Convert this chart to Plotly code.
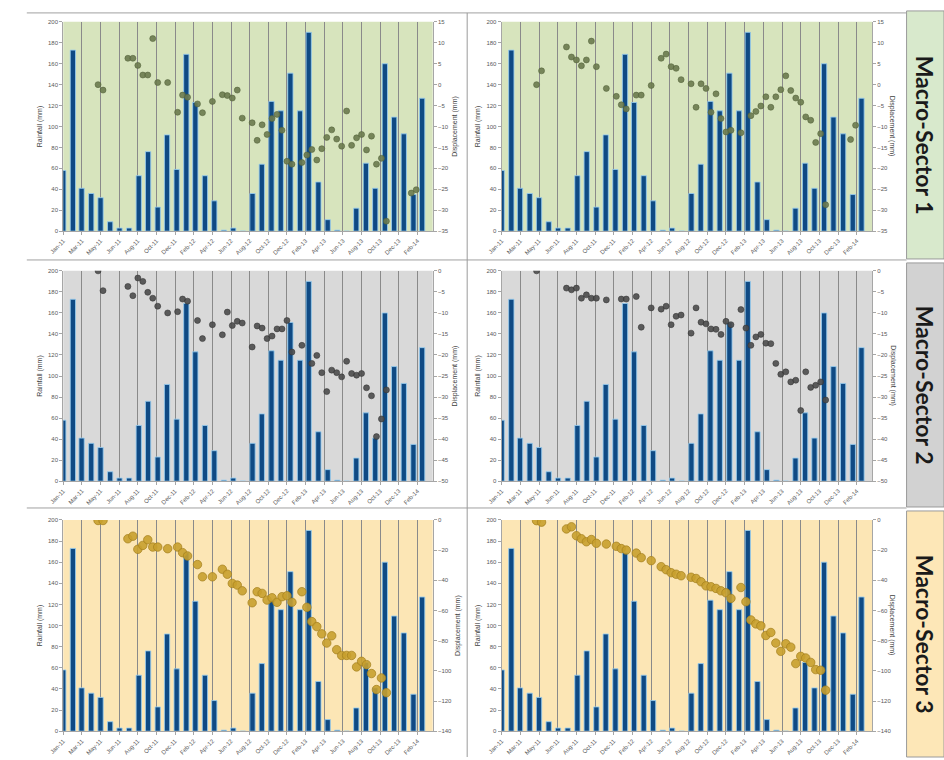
import pandas as pd
import plotly.graph_objects as go

# Monthly rainfall (mm), Jan-2011 .. Mar-2014
month_starts = pd.date_range("2011-01-01", "2014-03-01", freq="MS")
rainfall_mm = [58, 173, 41, 36, 32, 9, 3, 3, 53, 76, 23, 92, 59, 169, 123, 53, 29, 1, 3, 0,
               36, 64, 124, 115, 151, 115, 190, 47, 11, 1, 0, 22, 65, 41, 160, 109, 93, 35, 127]

# SAR acquisition dates shared by all displacement series
acq_dates = [
    "2011-04-23", "2011-05-09", "2011-07-28", "2011-08-13", "2011-08-29", "2011-09-14",
    "2011-09-30", "2011-10-16", "2011-11-01", "2011-12-03", "2012-01-04", "2012-01-20",
    "2012-02-05", "2012-03-08", "2012-03-24", "2012-04-25", "2012-05-27", "2012-06-12",
    "2012-06-28", "2012-07-14", "2012-07-30", "2012-08-31", "2012-09-16", "2012-10-02",
    "2012-10-18", "2012-11-03", "2012-11-19", "2012-12-05", "2012-12-21", "2013-01-06",
    "2013-02-07", "2013-02-23", "2013-03-11", "2013-03-27", "2013-04-12", "2013-04-28",
    "2013-05-14", "2013-05-30", "2013-06-15", "2013-07-01", "2013-07-17", "2013-08-02",
    "2013-08-18", "2013-09-03", "2013-09-19", "2013-10-05", "2013-10-21", "2013-11-06",
    "2014-01-25", "2014-02-10",
]

# Displacement (mm); None = no measurement on that date
sector1_left = [0.0, -1.3, 6.3, 6.3, 4.6, 2.3, 2.3, 11.0, 0.5, 0.5, -6.6, -2.5, -3.0, -4.6, -6.7,
                -4.0, -2.4, -2.6, -3.2, -1.3, -8.0, -9.1, -13.3, -9.6, -11.9, -8.1, -7.1, -10.9,
                -18.3, -19.0, -18.6, -16.8, -15.5, -18.0, -15.3, -12.6, -10.8, -13.0, -14.7, -6.3,
                -14.5, -12.7, -11.9, -15.6, -12.3, -19.0, -17.6, -32.6, -25.9, -25.1]
sector1_right = [0.0, 3.3, 9.0, 6.6, 5.9, 4.5, 5.9, 10.4, 4.3, -0.9, -2.8, -4.8, -5.8, -2.5, -2.5,
                 -0.2, 6.3, 7.3, 4.3, 3.9, 1.2, 0.2, -5.4, 0.2, -0.9, -6.6, -2.2, -8.1, -11.3,
                 -10.9, -11.5, None, -7.4, -6.4, -5.1, -2.9, -5.4, -2.9, -1.2, 2.1, -1.4, -3.2,
                 -4.2, -7.7, -8.5, -13.8, -11.7, -28.7, -13.1, -9.7]
sector2_left = [0.0, -4.7, -3.7, -5.9, -1.7, -2.5, -5.1, -6.5, -8.4, -10.0, -9.7, -6.7, -7.2, -11.8,
                -16.1, -12.8, -15.2, -9.8, -13.0, -12.0, -12.4, -18.1, -13.1, -13.6, -16.1, -15.5,
                -13.8, -13.8, -11.8, -19.3, -17.7, None, -22.0, -20.1, -24.2, -28.7, -23.6, -24.2,
                -25.2, -21.5, -24.4, -24.8, -24.4, -27.8, -29.7, -39.4, -35.2, -28.3, None, None]
sector2_right = [0.0, None, -4.1, -4.5, -4.1, -6.5, -5.7, -6.5, -6.5, -6.9, None, -6.7, -6.7, -6.1,
                 -13.4, -8.8, -9.1, -8.4, -12.8, -10.8, -10.5, -14.8, -8.8, -12.2, -12.6, -13.8,
                 -13.9, -15.1, -12.0, -12.8, -9.2, -13.6, -17.7, -15.7, -15.1, -17.2, -17.3, -22.0,
                 -24.6, -24.0, -26.4, -26.0, -33.2, -24.0, -27.7, -27.2, -26.4, -30.7, None, None]
sector3_left = [-0.4, -0.4, -12.5, -10.8, -19.5, -16.9, -13.2, -18.0, -18.0, -19.1, -18.0, -21.7,
                -23.9, -29.6, -37.7, -37.7, -32.7, -36.0, -42.1, -43.2, -47.0, -54.9, -47.6, -48.7,
                -53.1, -51.6, -54.6, -50.9, -50.3, -54.6, -47.6, -57.9, -67.4, -70.7, -75.5, -81.6,
                -76.8, -86.0, -89.8, -89.8, -89.8, -97.4, -93.7, -95.9, -101.8, -112.4, -104.7,
                -114.5, None, None]
sector3_right = [-0.5, -1.5, -6.0, -4.6, -10.5, -12.5, -14.5, -13.0, -15.5, -16.0, -17.5, -19.0,
                 -20.0, -22.0, -25.0, -27.0, -31.0, -33.0, -35.0, -36.0, -37.0, -38.0, -38.8, -41.0,
                 -43.7, -44.3, -45.4, -47.0, -48.3, -52.0, -44.8, -54.2, -66.3, -68.9, -70.2, -76.6,
                 -74.6, -81.6, -87.1, -82.1, -84.3, -95.2, -90.4, -91.5, -94.4, -99.2, -99.6,
                 -112.8, None, None]

sector_names = ["Macro-Sector 1", "Macro-Sector 2", "Macro-Sector 3"]
displacement = [[sector1_left, sector1_right], [sector2_left, sector2_right],
                [sector3_left, sector3_right]]
disp_ranges = [(-35, 15, 5), (-50, 0, 5), (-140, 0, 20)]

W, H = 944, 760
plot_bg = ["#d7e4bd", "#d9d9d9", "#fce6b5"]
label_bg = ["#d8e9cc", "#d2d2d2", "#fde7b7"]
marker_style = [
    dict(color="rgba(108,122,78,0.9)", size=6, line=dict(color="rgba(80,95,55,0.9)", width=0.6)),
    dict(color="rgba(75,75,75,0.9)", size=6, line=dict(color="rgba(50,50,50,0.9)", width=0.6)),
    dict(color="rgba(200,160,45,0.9)", size=8.5, line=dict(color="rgba(165,128,30,0.9)", width=0.8)),
]
col_x = [(50, 425), (495, 871)]
row_y = [(19, 230), (270, 482), (521, 734)]

tick_font = dict(family="Liberation Sans", size=6, color="#595959")
title_font = dict(family="Liberation Sans", size=7, color="#404040")

x_start = pd.Timestamp("2011-01-01")
x_end = pd.Timestamp("2014-04-04")
sixty_days_ms = 60 * 86400000

fig = go.Figure()
layout = dict(
    width=W, height=H, margin=dict(l=0, r=0, t=0, b=0),
    paper_bgcolor="white", plot_bgcolor="rgba(0,0,0,0)",
    showlegend=False, shapes=[], annotations=[],
)

for r in range(3):
    lo, hi, step = disp_ranges[r]
    for c in range(2):
        i = r * 2 + 1 + c
        j = i + 6
        xs = "" if i == 1 else str(i)
        x0, x1 = col_x[c]
        y0, y1 = row_y[r]
        xdom = [x0 / W, x1 / W]
        ydom = [1 - y1 / H, 1 - y0 / H]

        layout[f"xaxis{xs}"] = dict(
            domain=xdom, anchor=f"y{xs}", type="date",
            range=[x_start, x_end], tick0="2011-01-01", dtick=sixty_days_ms,
            tickformat="%b-%y", tickangle=-45, tickfont=tick_font,
            showgrid=True, gridcolor="#8a8a8a", gridwidth=0.8,
            showline=True, linecolor="#a6a6a6", ticks="outside", ticklen=3,
            tickcolor="#a6a6a6", zeroline=False,
        )
        layout[f"yaxis{xs}"] = dict(
            domain=ydom, anchor=f"x{xs}", range=[0, 200], dtick=20,
            tickfont=tick_font, showgrid=False, zeroline=False,
            showline=True, linecolor="#a6a6a6", ticks="outside", ticklen=3,
            tickcolor="#a6a6a6",
            title=dict(text="Rainfall (mm)", font=title_font, standoff=4),
        )
        right_axis = dict(
            overlaying=f"y{xs}", anchor=f"x{xs}", side="right",
            range=[lo, hi], dtick=step, tickfont=tick_font, showgrid=False,
            zeroline=False, showline=True, linecolor="#a6a6a6", ticks="outside",
            ticklen=3, tickcolor="#a6a6a6",
        )
        if c == 0:
            right_axis["title"] = dict(text="Displacement (mm)", font=title_font, standoff=4)
        else:
            # right-hand column: title runs top-to-bottom
            layout["annotations"].append(dict(
                text="Displacement (mm)", xref="paper", yref="paper",
                x=892 / W, y=1 - (y0 + y1) / 2 / H, showarrow=False, textangle=90,
                font=title_font, xanchor="center", yanchor="middle",
            ))
        layout[f"yaxis{j}"] = right_axis

        layout["shapes"].append(dict(
            type="rect", xref=f"x{xs} domain", yref=f"y{xs} domain",
            x0=0, x1=1, y0=0, y1=1, fillcolor=plot_bg[r], line=dict(width=0),
            layer="below",
        ))

        fig.add_trace(go.Bar(
            x=month_starts, y=rainfall_mm, xaxis=f"x{xs}", yaxis=f"y{xs}",
            width=17 * 86400000,
            marker=dict(color="#0f4a84", line=dict(color="rgba(150,205,240,0.85)", width=1)),
        ))
        fig.add_trace(go.Scatter(
            x=acq_dates, y=displacement[r][c], xaxis=f"x{xs}", yaxis=f"y{j}",
            mode="markers", marker=marker_style[r],
        ))

# Sector label column
label_rows = [(8, 258), (262, 508), (512, 760)]
for r, (t, b) in enumerate(label_rows):
    layout["shapes"].append(dict(
        type="rect", xref="paper", yref="paper",
        x0=906 / W, x1=1.0, y0=1 - b / H, y1=1 - t / H,
        fillcolor=label_bg[r], line=dict(color="#9a9a9a", width=1), layer="below",
    ))
    layout["annotations"].append(dict(
        text=f"<b>{sector_names[r]}</b>", xref="paper", yref="paper",
        x=925 / W, y=1 - (t + b) / 2 / H, showarrow=False, textangle=90,
        font=dict(family="Lato", size=23, color="#1a1a1a"),
        xanchor="center", yanchor="middle",
    ))

# Frame lines between the panels
for yy in (10, 259, 509):
    layout["shapes"].append(dict(
        type="line", xref="paper", yref="paper", x0=13 / W, x1=906 / W,
        y0=1 - yy / H, y1=1 - yy / H, line=dict(color="#a0a0a0", width=1),
    ))
layout["shapes"].append(dict(
    type="line", xref="paper", yref="paper", x0=460 / W, x1=460 / W,
    y0=0, y1=1 - 10 / H, line=dict(color="#9a9a9a", width=1),
))

fig.update_layout(**layout)
fig.write_html("out.html")
